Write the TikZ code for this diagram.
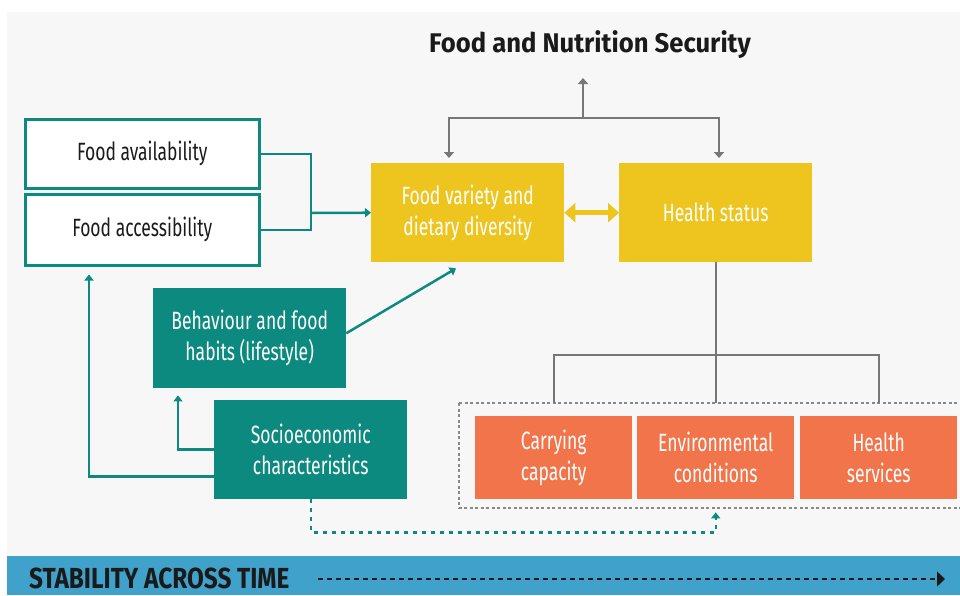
\documentclass[tikz,border=0pt]{standalone}
\usepackage{fontspec}
\setmainfont{Fira Sans}[FakeStretch=0.7]
\newfontfamily\titlefont{Fira Sans}[FakeStretch=0.95]
\newfontfamily\bandfont{Fira Sans}[FakeStretch=0.84]
\usetikzlibrary{arrows.meta,calc}
\definecolor{bgray}{HTML}{F7F7F7}
\definecolor{tealc}{RGB}{12,138,128}
\definecolor{yellowc}{RGB}{238,196,30}
\definecolor{orangec}{RGB}{241,116,74}
\definecolor{linegray}{HTML}{777777}
\definecolor{dotgray}{HTML}{888888}
\definecolor{bandblue}{RGB}{64,161,203}
\definecolor{darktext}{HTML}{1A1A1A}
\tikzset{
  boxbase/.style={anchor=north west, inner sep=0pt, align=center, font=\fontsize{25}{31}\selectfont},
  outlinebox/.style={boxbase, draw=tealc, line width=2.5pt, fill=white, text=darktext},
  tealbox/.style={boxbase, fill=tealc, text=white},
  yellowbox/.style={boxbase, fill=yellowc, text=white},
  orangebox/.style={boxbase, fill=orangec, text=white},
  tealline/.style={draw=tealc, line width=2.5pt},
  tealarrow/.style={tealline, -{Triangle[width=9pt,length=6pt]}},
  grayline/.style={draw=linegray, line width=2pt},
  grayarrow/.style={grayline, -{Triangle[width=10pt,length=6pt]}},
  tealdots/.style={draw=tealc, line width=2.2pt, dash pattern=on 4pt off 5pt, -{Triangle[width=9pt,length=6pt]}},
}
\begin{document}
\begin{tikzpicture}[x=1pt,y=-1pt]
\useasboundingbox (0,0) rectangle (960,595);
\fill[white] (0,0) rectangle (960,595);
\fill[bgray] (7,12) rectangle (960,556);
\fill[bandblue] (7,556) rectangle (960,595);

% title
\node[font=\titlefont\bfseries\fontsize{27}{30}\selectfont, text=darktext] (title) at (590,45) {Food and Nutrition Security};

% boxes
\node[outlinebox, minimum width=234pt, minimum height=69pt] (avail) at (24,118) {Food availability};
\node[outlinebox, minimum width=234pt, minimum height=71pt] (access) at (24,193) {Food accessibility};
\node[yellowbox, minimum width=193pt, minimum height=99pt] (variety) at (371,163) {Food variety and\\dietary diversity};
\node[yellowbox, minimum width=193pt, minimum height=99pt] (health) at (619,163) {Health status};
\node[tealbox, minimum width=193pt, minimum height=100pt] (behav) at (153,288) {Behaviour and food\\habits (lifestyle)};
\node[tealbox, minimum width=193pt, minimum height=99pt] (socio) at (214,400) {Socioeconomic\\characteristics};

% dotted group box
\draw[dotgray, line width=1.5pt, dash pattern=on 3pt off 2.5pt] (459,403) rectangle (966,508);
\node[orangebox, minimum width=157pt, minimum height=83pt] (carry) at (475,416) {Carrying\\capacity};
\node[orangebox, minimum width=157pt, minimum height=83pt] (env) at (637,416) {Environmental\\conditions};
\node[orangebox, minimum width=157pt, minimum height=83pt] (hserv) at (800,416) {Health\\services};

% gray connectors at top
\coordinate (gmid) at (583,118);
\coordinate (gleft) at ($(variety.north west)+(78,0)$);
\coordinate (gright) at ($(health.north west)+(100,0)$);
\draw[grayarrow] (gmid) -- (583,78);
\draw[grayarrow] (gmid) -| ($(gleft)+(0,-5)$);
\draw[grayarrow] (gmid) -| ($(gright)+(0,-5)$);

% yellow double arrow
\draw[draw=yellowc, line width=5pt, {Triangle[width=19pt,length=11pt]}-{Triangle[width=19pt,length=11pt]}] (variety.east) -- (health.east -| health.west);

% gray tree to bottom
\coordinate (hsplit) at (health.south |- 0,355);
\draw[grayline] (health.south) -- (hsplit);
\draw[grayline] (carry.north |- 0,403) |- (hserv.north |- 0,355) -- (hserv.north |- 0,403);
\draw[grayline] (hsplit) -- (env.north |- 0,403);

% teal bracket into variety
\coordinate (brk) at (311,213);
\draw[tealline] (avail.east) -| (brk) |- (access.east);
\draw[tealarrow] (brk) -- (variety.west);

% behaviour to variety
\draw[tealarrow] ($(behav.east)+(0,-5)$) -- ($(variety.south west)+(85,6)$);

% socio to behaviour
\draw[tealarrow] (socio.west) -| ($(behav.south west)+(25,7)$);
% socio to access
\draw[tealarrow] ($(socio.west)+(0,27)$) -| ($(access.south west)+(65,8)$);

% dotted teal to group
\draw[tealdots] (socio.south) -- ++(0,33) -| ($(env.south)+(0,13)$);

% stability band
\node[anchor=west, inner sep=0pt, font=\bandfont\bfseries\fontsize{29}{32}\selectfont, text=darktext] (stab) at (29,578) {STABILITY ACROSS TIME};
\coordinate (stabend) at (945,579);
\draw[darktext, line width=1.3pt, dash pattern=on 5pt off 4pt, -{Triangle[width=15pt,length=8pt]}] (318,579) -- (stabend);
\end{tikzpicture}
\end{document}
